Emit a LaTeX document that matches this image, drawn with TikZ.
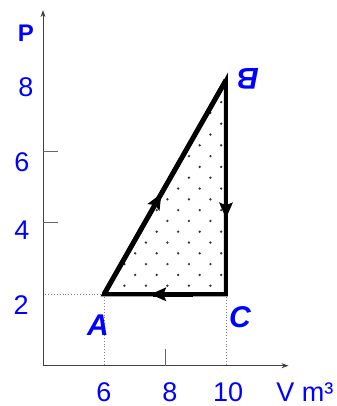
\documentclass[tikz,border=0pt]{standalone}
\usepackage{fontspec}
\setmainfont{Liberation Sans}
\usepackage{tikz}
\usetikzlibrary{arrows.meta,decorations.markings,calc}

\begin{document}
\begin{tikzpicture}[
    x=30.5pt, y=35.7pt,
    axis/.style={-{Stealth[length=7pt, width=5pt]}, line width=1pt, black!75},
    tickmark/.style={line width=1pt, black!60},
    guide/.style={dotted, line width=0.9pt, gray},
    process/.style={line width=4pt, line join=miter},
    midarrow/.style={postaction={decorate}, decoration={markings,
        mark=at position #1 with {\fill (0pt,0pt) -- (-16pt,7pt) -- (-13pt,0pt) -- (-16pt,-7pt) -- cycle;}}},
    num/.style={text=blue, inner sep=1pt, font=\fontsize{27}{30}\selectfont},
    state/.style={text=blue, inner sep=1pt, font=\fontsize{30}{32}\selectfont\bfseries\itshape}
]
    \useasboundingbox (2.59,-1.129) rectangle (13.607,10.244);

    % Corners of the axes
    \coordinate (O) at (4,0);
    \coordinate (Vend) at (12.05,0);
    \coordinate (Ptop) at (4,9.96);

    % The three states of the cycle
    \coordinate (A) at (6,2);
    \coordinate (B) at (10,8);
    \coordinate (C) at (10,2);

    % Dots inside the cycle (the work done)
    \begin{scope}
        \clip (A) -- (B) -- (C) -- cycle;
        \foreach \i in {0,...,18} {
            \pgfmathsetmacro\rowy{2.24+0.3025*\i}
            \pgfmathsetmacro\rowx{6.67+0.3525*mod(\i,2)}
            \foreach \j in {-1,...,5}
                \fill[black!80] (\rowx+0.705*\j,\rowy) circle (1.3pt);
        }
    \end{scope}

    % Guide lines down to the axes
    \draw[guide] (A) -- (O |- A);
    \draw[guide] (A) -- (A |- O);
    \draw[guide] (C) -- (C |- O);

    % Axes and tick marks
    \draw[axis] (O) -- (Vend);
    \draw[axis] (O) -- (Ptop);
    \draw[tickmark] (4,4) -- ++(0.49,0);
    \draw[tickmark] (4,6) -- ++(0.49,0);
    \draw[tickmark] (8,0) -- ++(0,0.48);

    % The cycle A -> B -> C -> A
    \draw[process] (A) -- (B) -- (C) -- cycle;
    \draw[process, line width=5pt, midarrow=0.47] (A) -- (B);
    \draw[process, line width=4.5pt, midarrow=0.645] (B) -- (C);
    \draw[process, midarrow=0.62] (C) -- (A);
    \draw[line width=5.5pt] ($(C)!0.60!(A)$) -- ($(C)!0.27!(A)$);

    % Axis numbers
    \node[num] (p8) at (3.44,7.80) {8};
    \node[num] (p6) at (3.31,5.71) {6};
    \node[num] (p4) at (3.31,3.80) {4};
    \node[num] (p2) at (3.28,1.70) {2};
    \node[num] (v6) at (6.00,-0.74) {6};
    \node[num] (v8) at (8.16,-0.74) {8};
    \node[num] (v10) at (10.07,-0.74) {10};

    % Axis names
    \node[text=blue, font=\fontsize{24}{26}\selectfont\bfseries] (lblP) at (3.44,9.32) {P};
    \node[num] (lblV) at (12.59,-0.74) {V m³};

    % State labels
    \node[state] (lblA) at (5.80,1.14) {A};
    \node[state, rotate=180] (lblB) at (10.72,8.03) {B};
    \node[state] (lblC) at (10.46,1.37) {C};
\end{tikzpicture}
\end{document}
